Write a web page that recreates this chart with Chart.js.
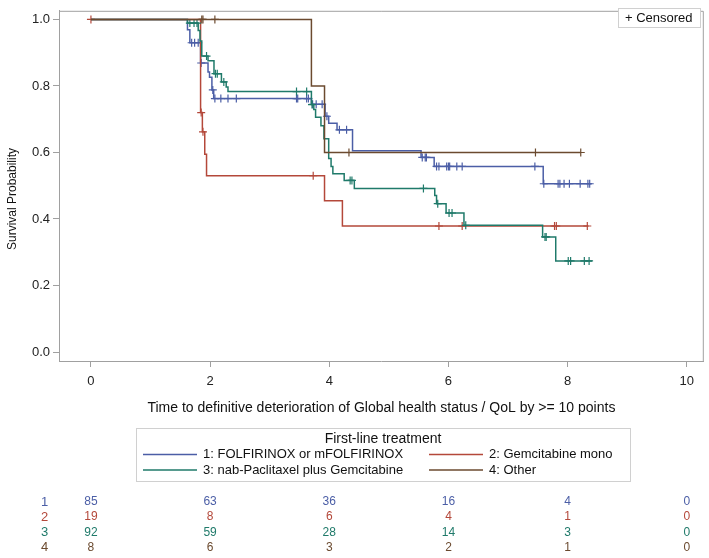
<!DOCTYPE html>
<html>
<head>
<meta charset="utf-8">
<title>Time to definitive deterioration - first-line treatment</title>
<script src="https://cdn.jsdelivr.net/npm/chart.js@4.4.1/dist/chart.umd.min.js"></script>
<style>
  body { margin: 0; background: #fff; }
  canvas { display: block; }
</style>
</head>
<body>
<canvas id="km" width="709" height="558"></canvas>
<script>
// === Kaplan-Meier steps (time, survival after the step) ===
const fxTime = [0, 1.62, 1.66, 1.84, 1.965, 1.99, 2.03, 2.06, 3.70, 3.93, 3.99, 4.13, 4.39, 5.54, 5.76, 7.59, 8.40];
const fxSurv = [1.0, 0.969, 0.930, 0.869, 0.842, 0.826, 0.788, 0.762, 0.745, 0.709, 0.688, 0.668, 0.605, 0.585, 0.558, 0.506, 0.506];
const fxCens = [1.69, 1.74, 1.80, 1.85, 2.045, 2.08, 2.18, 2.30, 2.44, 3.45, 3.47, 3.62, 3.65, 3.72, 3.78, 3.88, 3.96,
  4.17, 4.29, 5.56, 5.61, 5.63, 5.80, 5.84, 5.97, 6.00, 6.02, 6.14, 6.23, 7.45, 7.60, 7.84, 7.87, 7.94, 8.03, 8.21, 8.34, 8.37];

const gemTime = [0, 1.84, 1.87, 1.91, 1.94, 3.92, 4.22, 8.35];
const gemSurv = [1.0, 0.72, 0.662, 0.595, 0.53, 0.455, 0.379, 0.379];
const gemCens = [0, 1.85, 1.88, 3.73, 5.84, 6.23, 7.78, 7.81, 8.33];

const nabTime = [0, 1.62, 1.80, 1.83, 1.86, 1.965, 2.065, 2.19, 2.27, 2.30, 3.70, 3.74, 3.77, 3.86, 3.91, 3.99, 4.03,
  4.06, 4.25, 4.42, 5.77, 5.80, 5.96, 6.26, 7.58, 7.80, 8.41];
const nabSurv = [1.0, 0.989, 0.967, 0.935, 0.89, 0.876, 0.837, 0.812, 0.797, 0.783, 0.744, 0.729, 0.706, 0.68, 0.641, 0.582, 0.558,
  0.536, 0.516, 0.492, 0.471, 0.446, 0.418, 0.381, 0.346, 0.274, 0.274];
const nabCens = [1.66, 1.73, 1.78, 1.94, 2.09, 2.12, 2.23, 3.45, 3.62, 3.71, 4.35, 4.38, 5.58, 5.82, 6.01, 6.06, 6.29,
  7.62, 7.64, 8.01, 8.05, 8.28, 8.36];

const othTime = [0, 3.70, 3.92, 8.22];
const othSurv = [1.0, 0.80, 0.60, 0.60];
const othCens = [1.86, 1.88, 2.08, 4.33, 7.46, 8.22];

// === Number at risk ===
const riskTimes = [0, 2, 4, 6, 8, 10];
const riskFx  = [85, 63, 36, 16, 4, 0];
const riskGem = [19, 8, 6, 4, 1, 0];
const riskNab = [92, 59, 28, 14, 3, 0];
const riskOth = [8, 6, 3, 2, 1, 0];

const groupLabels = ['1: FOLFIRINOX or mFOLFIRINOX', '2: Gemcitabine mono', '3: nab-Paclitaxel plus Gemcitabine', '4: Other'];
const xTicks = [0, 2, 4, 6, 8, 10];
const yTicks = [0, 0.2, 0.4, 0.6, 0.8, 1.0];

const cores = ['#4b5ea6', '#b4483a', '#1f7a6a', '#6b4a2f'];
const cinza = '#a0a0a0';
const fonte = '"Liberation Sans", Arial, Helvetica, sans-serif';

Chart.defaults.font.family = fonte;
Chart.defaults.color = '#222';

// survival value at time t on a step curve
function survAt(times, surv, t) {
  let s = surv[0];
  for (let i = 0; i < times.length; i++) {
    if (times[i] <= t) s = surv[i];
  }
  return s;
}

function curva(times, surv, cor, order) {
  return {
    type: 'line',
    data: times.map((t, i) => ({ x: t, y: surv[i] })),
    borderColor: cor,
    borderWidth: 1.5,
    stepped: 'before',
    pointRadius: 0,
    fill: false,
    order: order
  };
}

function censuras(cens, times, surv, cor, order) {
  return {
    type: 'scatter',
    data: cens.map(t => ({ x: t, y: survAt(times, surv, t) })),
    pointStyle: 'cross',
    pointRadius: 4,
    borderColor: cor,
    borderWidth: 1.2,
    order: order
  };
}

// === extra drawing: frame, y title, censored box, legend, at-risk table ===
const extras = {
  id: 'extras',
  afterDraw(chart) {
    const ctx = chart.ctx;
    const a = chart.chartArea;
    const x = chart.scales.x;
    ctx.save();

    // top + right border
    ctx.strokeStyle = cinza;
    ctx.lineWidth = 1;
    ctx.beginPath();
    ctx.moveTo(a.left, a.top + 0.5);
    ctx.lineTo(a.right - 0.5, a.top + 0.5);
    ctx.lineTo(a.right - 0.5, a.bottom);
    ctx.stroke();

    // y title
    ctx.save();
    ctx.translate(13, 199);
    ctx.rotate(-Math.PI / 2);
    ctx.font = '12px ' + fonte;
    ctx.fillStyle = '#111';
    ctx.textAlign = 'center';
    ctx.textBaseline = 'middle';
    ctx.fillText('Survival Probability', 0, 0);
    ctx.restore();

    // + Censored box
    ctx.fillStyle = '#fff';
    ctx.fillRect(618.5, 8.5, 82, 19);
    ctx.strokeStyle = '#d0d0d0';
    ctx.strokeRect(618.5, 8.5, 82, 19);
    ctx.fillStyle = '#111';
    ctx.font = '13px ' + fonte;
    ctx.textAlign = 'left';
    ctx.textBaseline = 'middle';
    ctx.fillText('+ Censored', 625, 18);

    // legend
    ctx.strokeStyle = '#d0d0d0';
    ctx.strokeRect(136.5, 428.5, 494, 53);
    ctx.font = '14px ' + fonte;
    ctx.textAlign = 'center';
    ctx.fillText('First-line treatment', 383, 439);
    const pos = [[143, 454.5], [429, 454.5], [143, 470], [429, 470]];
    ctx.font = '13px ' + fonte;
    ctx.textAlign = 'left';
    groupLabels.forEach((lab, i) => {
      const [lx, ly] = pos[i];
      ctx.strokeStyle = cores[i];
      ctx.lineWidth = 1.5;
      ctx.beginPath();
      ctx.moveTo(lx, ly);
      ctx.lineTo(lx + 54, ly);
      ctx.stroke();
      ctx.fillStyle = '#111';
      ctx.fillText(lab, lx + 60, ly);
    });

    // number at risk
    const linhas = [riskFx, riskGem, riskNab, riskOth];
    const ys = [502, 517, 532.5, 547.5];
    ctx.textAlign = 'center';
    linhas.forEach((row, i) => {
      ctx.fillStyle = cores[i];
      ctx.font = '13px ' + fonte;
      ctx.fillText(String(i + 1), 44.5, ys[i]);
      ctx.font = '12px ' + fonte;
      row.forEach((n, j) => {
        ctx.fillText(String(n), x.getPixelForValue(riskTimes[j]), ys[i]);
      });
    });

    ctx.restore();
  }
};

new Chart(document.getElementById('km'), {
  type: 'line',
  data: {
    datasets: [
      curva(fxTime, fxSurv, cores[0], 4),
      curva(gemTime, gemSurv, cores[1], 3),
      curva(nabTime, nabSurv, cores[2], 2),
      curva(othTime, othSurv, cores[3], 1),
      censuras(fxCens, fxTime, fxSurv, cores[0], 4),
      censuras(gemCens, gemTime, gemSurv, cores[1], 3),
      censuras(nabCens, nabTime, nabSurv, cores[2], 2),
      censuras(othCens, othTime, othSurv, cores[3], 1)
    ]
  },
  options: {
    responsive: false,
    animation: false,
    layout: { padding: { top: 2, right: 4, left: 0, bottom: 0 } },
    plugins: { legend: { display: false }, tooltip: { enabled: false } },
    scales: {
      x: {
        type: 'linear',
        min: -0.536,
        max: 10.285,
        afterBuildTicks: s => { s.ticks = xTicks.map(v => ({ value: v })); },
        afterFit: s => { s.height = 197; },
        grid: { drawOnChartArea: false, drawTicks: true, tickLength: 6, color: cinza },
        border: { color: cinza },
        ticks: { padding: 7, font: { size: 13 }, color: '#222' },
        title: {
          display: true,
          text: 'Time to definitive deterioration of Global health status / QoL by >= 10 points',
          font: { size: 14 },
          color: '#111',
          padding: { top: 0, bottom: 141 }
        }
      },
      y: {
        type: 'linear',
        min: -0.027,
        max: 1.026,
        afterBuildTicks: s => { s.ticks = yTicks.map(v => ({ value: v })); },
        afterFit: s => { s.width = 59; },
        grid: { drawOnChartArea: false, drawTicks: true, tickLength: 6, color: cinza },
        border: { color: cinza },
        ticks: { padding: 3, font: { size: 13 }, color: '#222', callback: v => v.toFixed(1) }
      }
    }
  },
  plugins: [extras]
});
</script>
</body>
</html>
